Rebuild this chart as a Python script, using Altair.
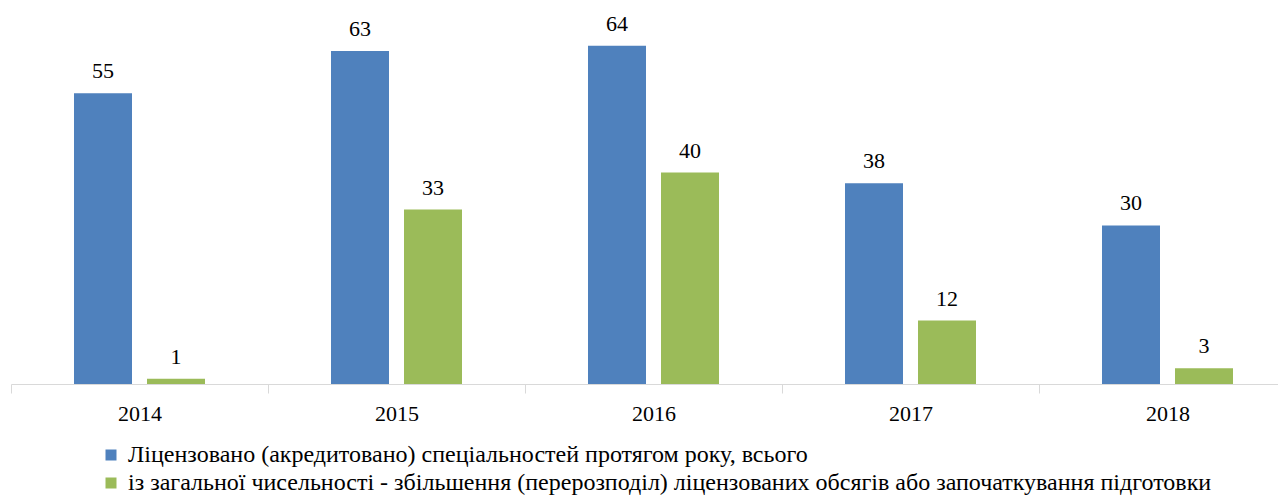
import altair as alt
import pandas as pd

years = ["2014", "2015", "2016", "2017", "2018"]
licensed = [55, 63, 64, 38, 30]
redistributed = [1, 33, 40, 12, 3]
series_names = [
    "Ліцензовано (акредитовано) спеціальностей протягом року, всього",
    "із загальної чисельності - збільшення (перерозподіл) ліцензованих обсягів або започаткування підготовки",
]
colors = ["#4F81BD", "#9BBB59"]

rows = []
for i, yr in enumerate(years):
    rows.append({"year": yr, "series": series_names[0], "value": licensed[i]})
    rows.append({"year": yr, "series": series_names[1], "value": redistributed[i]})
df = pd.DataFrame(rows)

FONT = "Liberation Serif, Times New Roman, serif"

x = alt.X(
    "year:N",
    sort=years,
    scale=alt.Scale(range=[0, 1285], paddingInner=0, paddingOuter=0),
    axis=alt.Axis(
        title=None, labelAngle=0, tickBand="extent", ticks=True, tickSize=9,
        tickColor="#D9D9D9", domainColor="#D9D9D9", labelFont=FONT,
        labelFontSize=22, labelColor="#000000", labelPadding=10, grid=False,
    ),
)
xo = alt.XOffset(
    "series:N", sort=series_names,
    scale=alt.Scale(paddingInner=0.2055, paddingOuter=0.863),
)
y = alt.Y("value:Q", scale=alt.Scale(domain=[0, 70]), axis=None)

bars = alt.Chart(df).mark_bar().encode(
    x=x,
    xOffset=xo,
    y=y,
    color=alt.Color(
        "series:N",
        scale=alt.Scale(domain=series_names, range=colors),
        legend=alt.Legend(
            orient="none", legendX=88, legendY=429, title=None,
            symbolType="square", symbolSize=121, symbolStrokeWidth=0,
            labelFont=FONT, labelFontSize=24, labelColor="#000000",
            labelLimit=0, labelOffset=5, rowPadding=4, padding=0,
        ),
    ),
)

labels = alt.Chart(df).mark_text(
    dy=-15, font=FONT, fontSize=22, color="#000000", baseline="alphabetic"
).encode(x=x, xOffset=xo, y=y, text="value:Q")

chart = (bars + labels).properties(
    width=1267,
    height=370,
    autosize=alt.AutoSizeParams(type="none"),
    padding={"left": 3, "top": 6, "right": 0, "bottom": 113},
).configure_view(stroke=None)

chart.save("out.html", embed_options={"renderer": "svg", "actions": False})
